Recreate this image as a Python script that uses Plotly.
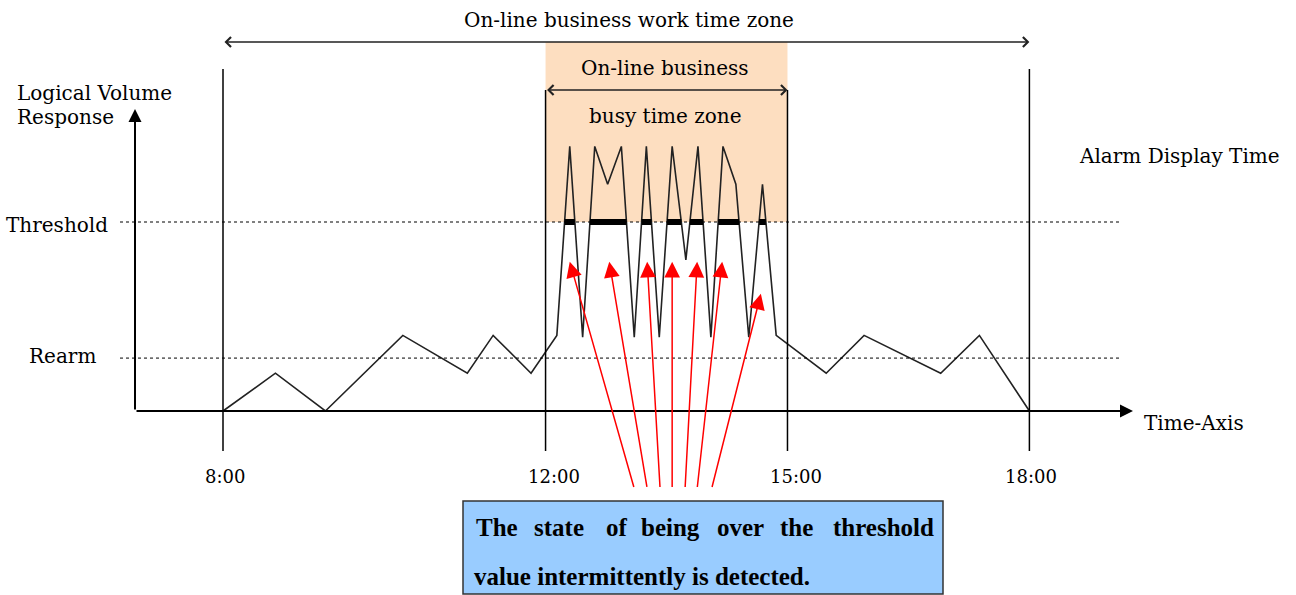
import plotly.graph_objects as go

W, H = 1296, 595
# pixel calibration of the drawing (layout only)
X0PX, XSCALE = 223.0, 80.64   # pixel of 8:00, pixels per hour
Y0PX, YSCALE = 411.0, 1.89    # pixel of the time axis, pixels per response unit


def hx(px):
    return 8 + (px - X0PX) / XSCALE


def vy(py):
    return (Y0PX - py) / YSCALE


# ---------------- data ----------------
time_hours = [8.00, 8.65, 9.27, 10.23, 11.03, 11.35, 11.82, 12.14, 12.30, 12.46,
              12.61, 12.77, 12.94, 13.10, 13.25, 13.41, 13.57, 13.74, 13.89, 14.05,
              14.20, 14.36, 14.52, 14.69, 14.86, 15.48, 15.95, 16.90, 17.38, 18.00]
response = [0, 20, 0, 40, 20, 40, 20, 40, 140, 39,
            140, 120, 140, 39, 140, 39, 140, 80, 140, 39,
            140, 120, 39, 120, 40, 20, 40, 20, 40, 0]
threshold = 100
rearm = 28

tick_hours = [8, 12, 15, 18]
tick_labels = ["8:00", "12:00", "15:00", "18:00"]
work_zone = [8, 18]
busy_zone = [12, 15]

arrow_tip_hours = [12.30, 12.79, 13.26, 13.57, 13.88, 14.19, 14.67]
arrow_tip_resp = [79, 79, 79, 79, 79, 79, 62]
arrow_tail_hours = [13.10, 13.26, 13.42, 13.57, 13.73, 13.88, 14.06]
arrow_tail_resp = [-41, -41, -41, -41, -41, -41, -41]

message_line1 = ["The", "state", "of", "being", "over", "the", "threshold"]
message_line2 = "value intermittently is detected."

# over-threshold intervals computed from the series
over_x, over_y = [], []
start = None
for i in range(len(time_hours) - 1):
    t0, r0, t1, r1 = time_hours[i], response[i], time_hours[i + 1], response[i + 1]
    if r0 < threshold <= r1:
        start = t0 + (threshold - r0) / (r1 - r0) * (t1 - t0)
    if r0 >= threshold > r1 and start is not None:
        end = t0 + (threshold - r0) / (r1 - r0) * (t1 - t0)
        over_x += [start, end, None]
        over_y += [threshold, threshold, None]
        start = None

FONT = "DejaVu Serif"

fig = go.Figure()
fig.add_trace(go.Scatter(x=time_hours, y=response, mode="lines",
                         line=dict(color="#222222", width=1.6), hoverinfo="skip"))
fig.add_trace(go.Scatter(x=over_x, y=over_y, mode="lines",
                         line=dict(color="black", width=6), hoverinfo="skip"))

shapes = []
# busy zone background
shapes.append(dict(type="rect", xref="x", yref="y", x0=busy_zone[0], x1=busy_zone[1],
                   y0=threshold, y1=vy(42), fillcolor="#FDDEC0", line=dict(width=0),
                   layer="below"))
# vertical lines
for h in work_zone:
    shapes.append(dict(type="line", xref="x", yref="y", x0=h, x1=h, y0=vy(69), y1=vy(451),
                       line=dict(color="black", width=1.5)))
for h in busy_zone:
    shapes.append(dict(type="line", xref="x", yref="y", x0=h, x1=h, y0=vy(90), y1=vy(451),
                       line=dict(color="black", width=1.5)))
# dotted threshold / rearm
for lvl in (threshold, rearm):
    shapes.append(dict(type="line", xref="x", yref="y", x0=hx(120), x1=hx(1122), y0=lvl, y1=lvl,
                       line=dict(color="black", width=1, dash="dot")))
# blue message box
shapes.append(dict(type="rect", xref="x", yref="y", x0=hx(463), x1=hx(943), y0=vy(501), y1=vy(594),
                   fillcolor="#99CCFF", line=dict(color="#333333", width=1.5)))

ann = []
# axes arrows
ax_x = hx(135)
ann.append(dict(x=ax_x, y=vy(109), ax=ax_x, ay=0, xref="x", yref="y", axref="x", ayref="y",
                text="", showarrow=True, arrowhead=2, arrowsize=1.3, arrowwidth=2, arrowcolor="black"))
ann.append(dict(x=hx(1133), y=0, ax=ax_x, ay=0, xref="x", yref="y", axref="x", ayref="y",
                text="", showarrow=True, arrowhead=2, arrowsize=1.3, arrowwidth=2, arrowcolor="black"))
# double arrows
ann.append(dict(x=work_zone[1], y=vy(42), ax=work_zone[0], ay=vy(42), xref="x", yref="y",
                axref="x", ayref="y", text="", showarrow=True, arrowhead=4, startarrowhead=4,
                arrowside="end+start", arrowsize=1.2, startarrowsize=1.2, arrowwidth=1.6, arrowcolor="#222222"))
ann.append(dict(x=busy_zone[1], y=vy(90), ax=busy_zone[0], ay=vy(90), xref="x", yref="y",
                axref="x", ayref="y", text="", showarrow=True, arrowhead=4, startarrowhead=4,
                arrowside="end+start", arrowsize=1.2, startarrowsize=1.2, arrowwidth=1.6, arrowcolor="#222222"))
# red arrows
for tx, ty, sx, sy in zip(arrow_tip_hours, arrow_tip_resp, arrow_tail_hours, arrow_tail_resp):
    ann.append(dict(x=tx, y=ty, ax=sx, ay=sy, xref="x", yref="y", axref="x", ayref="y",
                    text="", showarrow=True, arrowhead=2, arrowsize=2.1, arrowwidth=1.5,
                    arrowcolor="#FF0000"))


def txt(s, px, py, anchor="center", size=20, bold=False, family=FONT):
    ann.append(dict(x=hx(px), y=vy(py), xref="x", yref="y", text=(f"<b>{s}</b>" if bold else s),
                    showarrow=False, xanchor=anchor, yanchor="middle",
                    font=dict(family=family, size=size, color="black")))


txt("On-line business work time zone", 629, 20)
txt("On-line business", 665, 68)
txt("busy time zone", 665, 116)
txt("Logical Volume", 15, 93, "left")
txt("Response", 15, 117, "left")
txt("Threshold", 110, 225, "right")
txt("Rearm", 98, 356, "right")
txt("Alarm Display Time", 1077, 156, "left")
txt("Time-Axis", 1142, 423, "left")
for h, lab, dx in zip(tick_hours, tick_labels, [2, 8, 9, 2]):
    ann.append(dict(x=h, y=vy(476), xref="x", yref="y", text=lab, showarrow=False,
                    xanchor="center", yanchor="middle", xshift=dx,
                    font=dict(family=FONT, size=18, color="black")))

# justified first line: words spread across the box
word_left_px = [474, 532, 604, 639, 715, 778, 831]
for w, px in zip(message_line1, word_left_px):
    txt(w, px, 527, "left", size=25, bold=True, family="Liberation Serif")
txt(message_line2, 472, 576, "left", size=25, bold=True, family="Liberation Serif")

fig.update_layout(
    width=W, height=H, margin=dict(l=0, r=0, t=0, b=0),
    paper_bgcolor="white", plot_bgcolor="white", showlegend=False,
    xaxis=dict(range=[hx(0), hx(W)], visible=False, fixedrange=True),
    yaxis=dict(range=[vy(H), vy(0)], visible=False, fixedrange=True),
    shapes=shapes, annotations=ann,
)

fig.write_html("out.html", config={"displayModeBar": False},
               post_script="document.body.style.margin='0';")
